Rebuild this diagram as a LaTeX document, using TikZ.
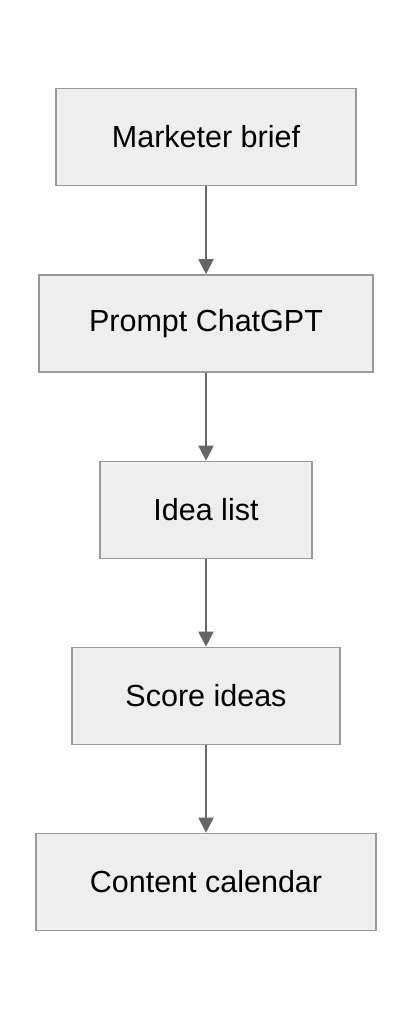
\documentclass[tikz,border=0pt]{standalone}
\usepackage{fontspec}
\setmainfont{Liberation Sans}
\usetikzlibrary{arrows.meta}
\definecolor{box_fill}{RGB}{238, 238, 238}
\definecolor{box_line}{RGB}{153, 153, 153}
\definecolor{arr_line}{RGB}{102, 102, 102}
\tikzstyle{bx}=[rectangle,fill=box_fill,draw=box_line,line width=1.6pt,
  minimum height=97pt,inner sep=0pt,font=\fontsize{30.5}{36}\selectfont]
\tikzstyle{ar}=[draw=arr_line,line width=2pt,
  -{Triangle[length=15pt,width=15pt,fill=arr_line]}]
\begin{document}
\begin{tikzpicture}[x=1pt,y=-1pt]
    \useasboundingbox (0, 0) rectangle (412, 1020);
            \node [style=bx,minimum width=300pt] (0) at (206, 137) {Marketer brief};
            \node [style=bx,minimum width=334pt] (1) at (206, 323.5) {Prompt ChatGPT};
            \node [style=bx,minimum width=212pt] (2) at (206, 510) {Idea list};
            \node [style=bx,minimum width=268pt] (3) at (206, 696) {Score ideas};
            \node [style=bx,minimum width=340pt] (4) at (206, 882) {Content calendar};
            \draw [style=ar] (0) to (1);
            \draw [style=ar] (1) to (2);
            \draw [style=ar] (2) to (3);
            \draw [style=ar] (3) to (4);
    \end{tikzpicture}
\end{document}
